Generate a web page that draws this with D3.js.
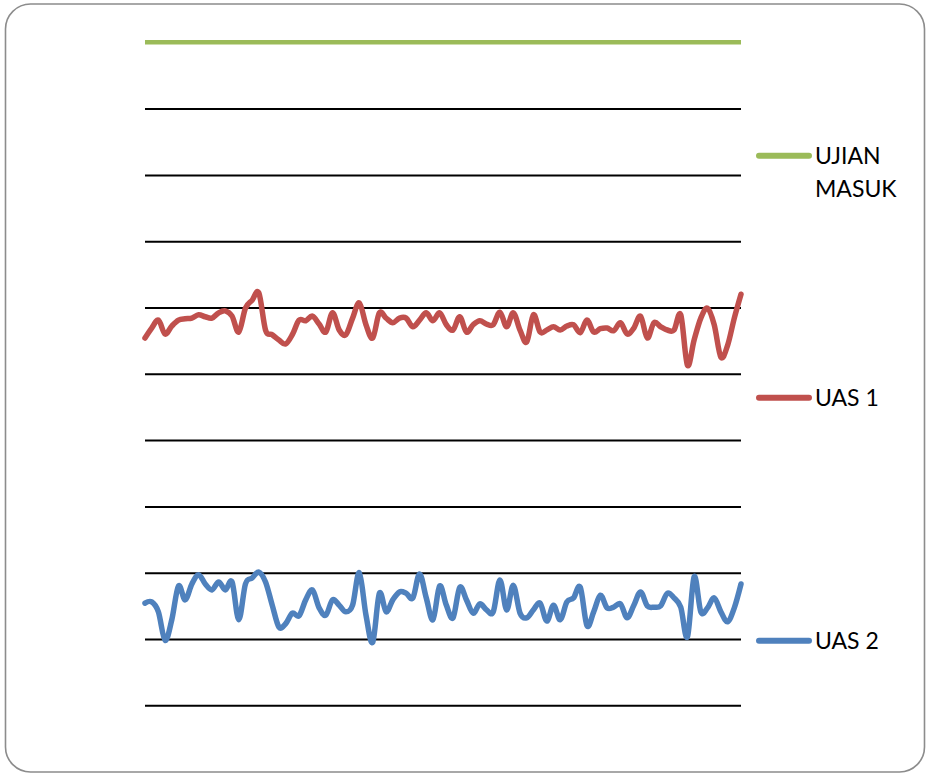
<!DOCTYPE html>
<html>
<head>
<meta charset="utf-8">
<script src="https://cdn.jsdelivr.net/npm/d3@7/dist/d3.min.js"></script>
<style>
  html, body { margin: 0; padding: 0; background: #fff; }
  svg { display: block; }
  .legend text { font-family: Lato, "Open Sans", sans-serif; font-size: 23px; fill: #000; }
</style>
</head>
<body>
<svg id="chart" width="927" height="776"></svg>
<script>
// Student numbers along the category axis
const students = d3.range(1, 91);

// Entrance test: every student sits at the top of the scale
const ujianMasuk = [
  100,100,100,100,100,100,100,100,100,100,
  100,100,100,100,100,100,100,100,100,100,
  100,100,100,100,100,100,100,100,100,100,
  100,100,100,100,100,100,100,100,100,100,
  100,100,100,100,100,100,100,100,100,100,
  100,100,100,100,100,100,100,100,100,100,
  100,100,100,100,100,100,100,100,100,100,
  100,100,100,100,100,100,100,100,100,100,
  100,100,100,100,100,100,100,100,100,100
];

// Final exam 1
const uas1 = [
  55.4,56.9,58.1,56.0,57.2,58.1,58.3,58.4,58.9,58.6,
  58.4,59.2,59.5,58.7,56.3,59.9,61.1,62.2,56.6,55.9,
  55.1,54.5,55.9,58.1,58.0,58.7,57.5,56.3,59.2,56.6,
  55.9,58.4,60.7,57.4,55.4,59.2,58.4,57.7,58.4,58.4,
  57.1,58.1,59.2,58.0,59.2,57.4,56.6,58.6,56.3,57.4,
  58.0,57.5,57.4,59.3,57.1,59.2,56.6,54.8,58.9,56.3,
  56.6,57.1,56.6,57.2,57.4,56.2,58.1,56.3,56.8,56.9,
  56.5,57.7,56.0,56.9,58.7,55.4,57.7,57.1,56.6,56.6,
  58.9,51.3,55.1,58.4,59.9,57.4,52.5,54.3,58.4,62.0
];

// Final exam 2
const uas2 = [
  15.4,15.6,14.1,9.8,12.9,18.0,15.9,18.3,19.7,18.3,
  17.4,18.6,17.4,18.6,12.9,18.3,19.2,20.1,18.6,15.1,
  11.8,12.3,13.9,13.5,15.9,17.4,14.7,13.6,15.9,15.1,
  14.1,15.1,20.0,13.6,9.5,16.9,14.1,15.9,17.1,16.9,
  16.2,19.8,16.2,12.9,18.0,15.1,13.2,17.8,15.9,13.9,
  15.3,14.4,14.1,18.9,14.4,18.1,13.9,13.2,14.4,15.4,
  12.7,15.1,12.9,15.6,16.2,17.8,12.0,14.1,16.6,14.7,
  14.8,15.3,13.2,15.1,17.1,15.0,14.8,15.0,16.9,16.2,
  14.8,10.3,19.4,14.1,14.7,16.2,14.1,12.6,14.7,18.3
];

// Horizontal gridline values
const yTicks = [0, 10, 20, 30, 40, 50, 60, 70, 80, 90, 100];

// Series names and colours, in legend order
const seriesNames = ["UJIAN MASUK", "UAS 1", "UAS 2"];
const seriesColors = ["#9bbb59", "#c0504d", "#4f81bd"];
const seriesValues = [ujianMasuk, uas1, uas2];

const svg = d3.select("#chart");

// Chart frame with rounded corners
svg.append("rect")
  .attr("x", 5.5).attr("y", 4)
  .attr("width", 919).attr("height", 768)
  .attr("rx", 25).attr("ry", 25)
  .attr("fill", "#fff")
  .attr("stroke", "#8c8c8c")
  .attr("stroke-width", 1.6);

const plot = { left: 145, right: 741, top: 42.3, bottom: 705.3 };

const x = d3.scalePoint()
  .domain(students)
  .range([plot.left, plot.right]);

const y = d3.scaleLinear()
  .domain([0, 100])
  .range([plot.bottom, plot.top]);

// Gridlines drawn through an axis with full-width ticks and no labels
const grid = svg.append("g")
  .attr("transform", `translate(${plot.left},0)`)
  .call(d3.axisLeft(y)
    .tickValues(yTicks)
    .tickSize(-(plot.right - plot.left))
    .tickFormat(""));
grid.select(".domain").remove();
grid.selectAll(".tick line")
  .attr("stroke", "#000")
  .attr("stroke-width", 2);

// Smoothed series lines
const line = d3.line()
  .x((d, i) => x(students[i]))
  .y(d => y(d))
  .curve(d3.curveCardinal.tension(0));

const widths = [4.5, 5.5, 5.5];
seriesValues.forEach((vals, k) => {
  svg.append("path")
    .datum(vals)
    .attr("d", line)
    .attr("fill", "none")
    .attr("stroke", seriesColors[k])
    .attr("stroke-width", widths[k])
    .attr("stroke-linejoin", "round")
    .attr("stroke-linecap", k === 0 ? "butt" : "round");
});

// Legend on the right side
const legendY = [155.7, 397.7, 640.7];
const legend = svg.append("g").attr("class", "legend");
seriesNames.forEach((name, k) => {
  const g = legend.append("g").attr("transform", `translate(0,${legendY[k]})`);
  g.append("line")
    .attr("x1", 759).attr("x2", 809)
    .attr("y1", 0).attr("y2", 0)
    .attr("stroke", seriesColors[k])
    .attr("stroke-width", 6)
    .attr("stroke-linecap", "round");
  const words = name === "UJIAN MASUK" ? ["UJIAN", "MASUK"] : [name];
  words.forEach((w, j) => {
    g.append("text")
      .attr("x", 815)
      .attr("y", 8 + j * 33.4)
      .text(w);
  });
});
</script>
</body>
</html>
